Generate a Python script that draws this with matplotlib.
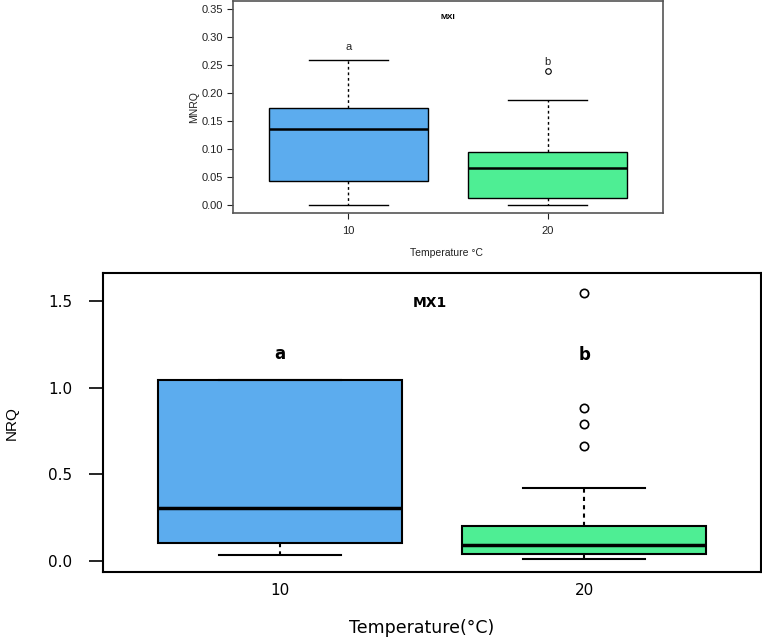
import matplotlib
matplotlib.use("Agg")
import matplotlib.pyplot as plt

# ---- data ----
groups = ["10", "20"]
colors = ["#5CACEE", "#4EEE94"]

# Top panel (MXI, MNRQ)
top_q1 = [0.043, 0.012]
top_med = [0.135, 0.066]
top_q3 = [0.173, 0.095]
top_whislo = [0.001, 0.001]
top_whishi = [0.259, 0.187]
top_fliers = [[], [0.239]]
top_letters = ["a", "b"]
top_letter_y = [0.282, 0.256]
top_yticks = [0.00, 0.05, 0.10, 0.15, 0.20, 0.25, 0.30, 0.35]

# Bottom panel (MX1, NRQ)
bot_q1 = [0.104, 0.040]
bot_med = [0.307, 0.093]
bot_q3 = [1.048, 0.203]
bot_whislo = [0.035, 0.012]
bot_whishi = [1.048, 0.423]
bot_fliers = [[], [1.546, 0.886, 0.793, 0.666]]
bot_letters = ["a", "b"]
bot_letter_y = [1.198, 1.19]
bot_yticks = [0.0, 0.5, 1.0, 1.5]

plt.rcParams['font.family'] = ['Liberation Sans', 'DejaVu Sans']
WIDE = ['DejaVu Sans']

fig = plt.figure(figsize=(7.62, 6.37), dpi=100)
W, H = 762, 637


def make_axes(l, r, t, b):
    return fig.add_axes([l / W, 1 - b / H, (r - l) / W, (b - t) / H])


def draw_box(ax, q1, med, q3, wlo, whi, fl, lw_box, lw_med, msize, mew):
    stats = []
    for i in range(len(groups)):
        stats.append(dict(q1=q1[i], med=med[i], q3=q3[i], whislo=wlo[i],
                          whishi=whi[i], fliers=fl[i], label=groups[i]))
    bp = ax.bxp(stats, positions=[1, 2], widths=0.8, patch_artist=True,
                showfliers=True,
                boxprops=dict(linewidth=lw_box, edgecolor="black"),
                medianprops=dict(color="black", linewidth=lw_med),
                whiskerprops=dict(linestyle=(0, (2, 2)), linewidth=lw_box, color="black"),
                capprops=dict(linewidth=lw_box, color="black"),
                capwidths=0.4,
                flierprops=dict(marker="o", markerfacecolor="none",
                                markeredgecolor="black", markersize=msize,
                                markeredgewidth=mew))
    for patch, c in zip(bp["boxes"], colors):
        patch.set_facecolor(c)
    return bp


# ---------- top panel ----------
ax1 = make_axes(233, 663, 1, 213)
draw_box(ax1, top_q1, top_med, top_q3, top_whislo, top_whishi, top_fliers,
         1.0, 1.8, 4, 0.8)
ax1.set_xlim(0.42, 2.58)
ax1.set_ylim(-0.014, 0.364)
ax1.set_yticks(top_yticks)
ax1.set_yticklabels(["%.2f" % v for v in top_yticks])
ax1.tick_params(axis="both", length=4, width=0.8, labelsize=8, colors="#222222",
                pad=3)
ax1.tick_params(axis="x", pad=5)
for s in ax1.spines.values():
    s.set_color("#555555")
    s.set_linewidth(1.2)
for i, (lt, ly) in enumerate(zip(top_letters, top_letter_y)):
    ax1.text(i + 1, ly, lt, ha="center", va="center", fontsize=8, color="#222222")
ax1.text(0.5, 0.92, "MXI", transform=ax1.transAxes, ha="center", va="center",
         fontsize=6, fontweight="bold")
ax1.set_ylabel("MNRQ", fontsize=7.5, labelpad=2, color="#222222")
fig.text(447 / W, 1 - 253 / H, "Temperature °C", ha="center", va="center",
         fontsize=7.5, color="#222222")

# ---------- bottom panel ----------
ax2 = make_axes(103, 761, 273, 572)
draw_box(ax2, bot_q1, bot_med, bot_q3, bot_whislo, bot_whishi, bot_fliers,
         1.5, 2.5, 6, 1.2)
ax2.set_xlim(0.42, 2.58)
ax2.set_ylim(-0.064, 1.664)
ax2.set_yticks(bot_yticks)
ax2.set_yticklabels(["%.1f" % v for v in bot_yticks])
ax2.tick_params(axis="y", length=10, width=1.2, labelsize=11, pad=12)
ax2.tick_params(axis="x", length=0, labelsize=11, pad=8)
for lab in ax2.get_xticklabels() + ax2.get_yticklabels():
    lab.set_family(WIDE)
for s in ax2.spines.values():
    s.set_color("black")
    s.set_linewidth(1.5)
for i, (lt, ly) in enumerate(zip(bot_letters, bot_letter_y)):
    ax2.text(i + 1, ly, lt, ha="center", va="center", fontsize=12,
             fontweight="bold", family=WIDE)
ax2.text(0.497, 0.898, "MX1", transform=ax2.transAxes, ha="center", va="center",
         fontsize=10, fontweight="bold", family=WIDE)
fig.text(12 / W, 1 - 423 / H, "NRQ", rotation=90, ha="center", va="center",
         fontsize=11)
fig.text(422 / W, 1 - 628 / H, "Temperature(°C)", ha="center", va="center",
         fontsize=12.5, family=WIDE)

fig.savefig("out.png", dpi=100)
